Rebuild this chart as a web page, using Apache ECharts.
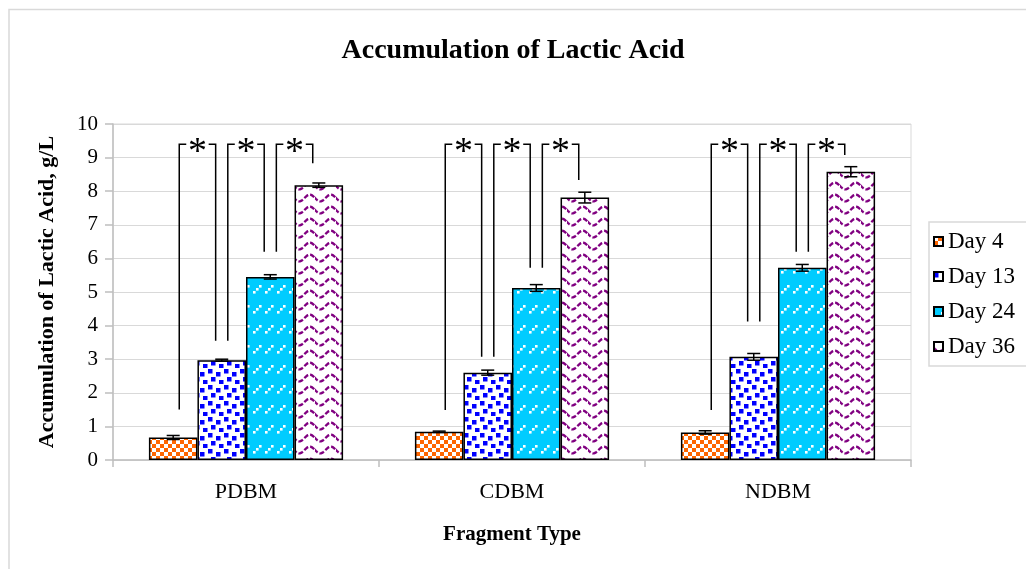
<!DOCTYPE html>
<html>
<head>
<meta charset="utf-8">
<title>Accumulation of Lactic Acid</title>
<script src="https://cdn.jsdelivr.net/npm/echarts@6/dist/echarts.min.js"></script>
<style>
  html, body { margin: 0; padding: 0; background: #fff; }
  #chart { width: 1026px; height: 569px; }
</style>
</head>
<body>
<div id="chart"></div>
<script>
// Lactic acid accumulation (g/L) per fragment type and sampling day
const categories = ['PDBM', 'CDBM', 'NDBM'];
const seriesNames = ['Day 4', 'Day 13', 'Day 24', 'Day 36'];
const day4 = [0.67, 0.84, 0.82];
const day13 = [2.97, 2.60, 3.07];
const day24 = [5.45, 5.12, 5.72];
const day36 = [8.18, 7.81, 8.58];
// standard deviation for each bar
const err4 = [0.06, 0.02, 0.05];
const err13 = [0.03, 0.075, 0.10];
const err24 = [0.065, 0.10, 0.10];
const err36 = [0.065, 0.16, 0.15];
// y axis range
const yMin = 0;
const yMax = 10;
const yStep = 1;
// significance brackets: lower end of each leg (one per bar) and the common top level
const bracketLegBase = [
  [1.50, 3.55, 6.20, 8.83],
  [1.49, 3.07, 5.72, 8.33],
  [1.49, 4.12, 6.20, 9.08]
];
const bracketTop = 9.4;
const significanceMark = '*';

const FONT = '"Liberation Serif", "Times New Roman", serif';
const CAT_GAP = 0.27;

// ---- fill patterns ----
function makeTile(w, h, draw) {
  const c = document.createElement('canvas');
  c.width = w; c.height = h;
  const ctx = c.getContext('2d');
  draw(ctx, w, h);
  return c;
}
const checkerTile = makeTile(8, 8, (ctx) => {
  ctx.fillStyle = '#FF6600'; ctx.fillRect(0, 0, 8, 8);
  ctx.fillStyle = '#FFFFFF'; ctx.fillRect(0, 0, 4, 4); ctx.fillRect(4, 4, 4, 4);
});
const confettiTile = makeTile(16, 16, (ctx) => {
  ctx.fillStyle = '#FFFFFF'; ctx.fillRect(0, 0, 16, 16);
  ctx.fillStyle = '#0000FF';
  [[0, 1], [8, 4], [3, 9], [11, 12]].forEach(p => ctx.fillRect(p[0], p[1], 4.5, 4.5));
});
const dashTile = makeTile(12, 20, (ctx) => {
  ctx.fillStyle = '#00CCFF'; ctx.fillRect(0, 0, 12, 20);
  ctx.fillStyle = '#FFFFFF';
  [[1, 11], [4, 8], [7, 5]].forEach(p => ctx.fillRect(p[0], p[1], 2.6, 2.6));
});
const waveTile = makeTile(21, 12, (ctx) => {
  ctx.fillStyle = '#FFFFFF'; ctx.fillRect(0, 0, 21, 12);
  ctx.strokeStyle = '#800080'; ctx.lineWidth = 2.4;
  ctx.setLineDash([5, 2]);
  ctx.beginPath();
  for (let x = -1; x <= 22; x += 0.5) {
    const y = 6 + 3.4 * Math.sin(2 * Math.PI * x / 21);
    if (x === -1) ctx.moveTo(x, y); else ctx.lineTo(x, y);
  }
  ctx.stroke();
});
const fills = [checkerTile, confettiTile, dashTile, waveTile].map(img => ({ image: img, repeat: 'repeat' }));

const values = [day4, day13, day24, day36];
const errors = [err4, err13, err24, err36];

// bar centre inside a category band, same layout rule the bar series uses
function barCenterX(api, cat, k) {
  const base = api.coord([cat, 0]);
  const band = api.size([1, 0])[0];
  const barW = band * (1 - CAT_GAP) / seriesNames.length;
  return { x: base[0] + (k - (seriesNames.length - 1) / 2) * barW, w: barW };
}

const errorData = [];
categories.forEach((c, ci) => {
  values.forEach((arr, k) => errorData.push([ci, k, arr[ci], errors[k][ci]]));
});

const bracketData = [];
categories.forEach((c, ci) => {
  for (let p = 0; p < seriesNames.length - 1; p++) {
    bracketData.push([ci, p, bracketLegBase[ci][p], bracketLegBase[ci][p + 1], bracketTop]);
  }
});

const barSeries = seriesNames.map((name, k) => ({
  name: name,
  type: 'bar',
  data: values[k],
  barGap: '0%',
  barCategoryGap: (CAT_GAP * 100) + '%',
  itemStyle: { color: fills[k], borderColor: '#000', borderWidth: 1.5 },
  z: 2
}));

const errorSeries = {
  type: 'custom',
  name: 'sd',
  silent: true,
  z: 4,
  encode: { x: 0, y: 2 },
  data: errorData,
  renderItem: function (params, api) {
    const cat = api.value(0), k = api.value(1), v = api.value(2), e = api.value(3);
    const x = barCenterX(api, cat, k).x;
    const yHi = api.coord([cat, v + e])[1];
    const yLo = api.coord([cat, v - e])[1];
    const cap = 6.5;
    const st = { stroke: '#000', lineWidth: 1.5 };
    return {
      type: 'group',
      children: [
        { type: 'line', shape: { x1: x, y1: yHi, x2: x, y2: yLo }, style: st },
        { type: 'line', shape: { x1: x - cap, y1: yHi, x2: x + cap, y2: yHi }, style: st },
        { type: 'line', shape: { x1: x - cap, y1: yLo, x2: x + cap, y2: yLo }, style: st }
      ]
    };
  }
};

const bracketSeries = {
  type: 'custom',
  name: 'significance',
  silent: true,
  z: 5,
  encode: { x: 0, y: 4 },
  data: bracketData,
  renderItem: function (params, api) {
    const cat = api.value(0), p = api.value(1);
    const left = barCenterX(api, cat, p);
    const right = barCenterX(api, cat, p + 1);
    const legOff = left.w * 0.125;
    const xl = left.x + legOff;
    const xr = right.x - legOff;
    const yl = api.coord([cat, api.value(2)])[1];
    const yr = api.coord([cat, api.value(3)])[1];
    const yt = api.coord([cat, api.value(4)])[1];
    const seg = 7;
    const st = { stroke: '#000', lineWidth: 1.5, fill: null };
    return {
      type: 'group',
      children: [
        { type: 'polyline', shape: { points: [[xl, yl], [xl, yt], [xl + seg, yt]] }, style: st },
        { type: 'polyline', shape: { points: [[xr - seg, yt], [xr, yt], [xr, yr]] }, style: st },
        {
          type: 'text', x: (xl + xr) / 2, y: yt + 9,
          style: {
            text: significanceMark, fontFamily: FONT, fontSize: 38,
            fill: '#000', align: 'center', verticalAlign: 'middle'
          }
        }
      ]
    };
  }
};

const chart = echarts.init(document.getElementById('chart'), null, { renderer: 'canvas' });
chart.setOption({
  animation: false,
  backgroundColor: '#fff',
  textStyle: { fontFamily: FONT, color: '#000' },
  title: {
    text: 'Accumulation of Lactic Acid',
    left: 'center',
    top: 32,
    textStyle: { fontFamily: FONT, fontSize: 28, fontWeight: 'bold', color: '#000' }
  },
  graphic: [{
    type: 'rect',
    shape: { x: 9, y: 9.5, width: 1100, height: 600 },
    style: { fill: null, stroke: '#d9d9d9', lineWidth: 1.5 },
    silent: true,
    z: -10
  }],
  legend: {
    orient: 'vertical',
    left: 929,
    top: 222,
    data: seriesNames,
    icon: 'rect',
    itemWidth: 9,
    itemHeight: 9,
    itemGap: 12,
    padding: [8, 24, 8, 4],
    borderColor: '#d9d9d9',
    borderWidth: 1.5,
    textStyle: { fontFamily: FONT, fontSize: 23, color: '#000' }
  },
  grid: {
    left: 113, right: 115, top: 124, bottom: 109,
    show: true, borderColor: '#d9d9d9', borderWidth: 1
  },
  xAxis: {
    type: 'category',
    data: categories,
    name: 'Fragment Type',
    nameLocation: 'middle',
    nameGap: 64,
    nameTextStyle: { fontFamily: FONT, fontSize: 21, fontWeight: 'bold', color: '#000' },
    axisLine: { lineStyle: { color: '#bfbfbf', width: 1.5 } },
    axisTick: { show: true, length: 7, lineStyle: { color: '#bfbfbf', width: 1.5 } },
    axisLabel: { margin: 21, fontFamily: FONT, fontSize: 22, color: '#000' }
  },
  yAxis: {
    type: 'value',
    min: yMin, max: yMax, interval: yStep,
    name: 'Accumulation of Lactic Acid, g/L',
    nameLocation: 'middle',
    nameRotate: 90,
    nameGap: 55,
    nameTextStyle: { fontFamily: FONT, fontSize: 22, fontWeight: 'bold', color: '#000' },
    axisLine: { show: true, lineStyle: { color: '#bfbfbf', width: 1.5 } },
    axisTick: { show: true, length: 8, lineStyle: { color: '#bfbfbf', width: 1.5 } },
    axisLabel: { margin: 15, fontFamily: FONT, fontSize: 21, color: '#000' },
    splitLine: { lineStyle: { color: '#d9d9d9', width: 1 } }
  },
  series: barSeries.concat([errorSeries, bracketSeries])
});
</script>
</body>
</html>
